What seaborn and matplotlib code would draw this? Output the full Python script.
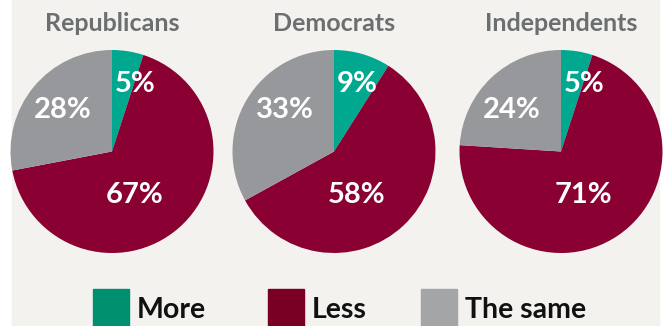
import matplotlib
matplotlib.use("Agg")
import matplotlib.pyplot as plt
import matplotlib.patches as mpatches
import numpy as np
import seaborn as sns

# ---- data ----
groups = ["Republicans", "Democrats", "Independents"]
categories = ["More", "Less", "The same"]
more = [5, 9, 5]
less = [67, 58, 71]
same = [28, 33, 24]

sns.set_theme(style="white")
FONT = ["Lato", "DejaVu Sans"]
plt.rcParams["font.family"] = FONT

pie_colors = sns.color_palette(["#00a88f", "#8a0032", "#97989c"])
legend_colors = sns.color_palette(["#008f6f", "#790024", "#a3a5a6"])
bg = "#f3f2ee"
title_color = "#6b6f70"

W, H = 669, 326
fig = plt.figure(figsize=(W / 100, H / 100), dpi=100)
fig.patch.set_facecolor("white")
fig.patches.append(mpatches.Rectangle((12 / W, 0), (659 - 12) / W, 1,
                                      transform=fig.transFigure, color=bg, zorder=-10))

centers_x = [112, 334, 561]
cy = 151.5
R = 101.5
# label placement (polar, in pie radii) per category
label_polar = [(0.70, 71), (0.48, -62), (0.63, 140)]

for i, g in enumerate(groups):
    vals = [more[i], less[i], same[i]]
    cx = centers_x[i]
    ax = fig.add_axes([(cx - R) / W, (H - cy - R) / H, 2 * R / W, 2 * R / H])
    ax.pie(vals, colors=pie_colors, startangle=90, counterclock=False,
           radius=1, wedgeprops=dict(linewidth=0))
    ax.set_xlim(-1, 1)
    ax.set_ylim(-1, 1)
    ax.set_aspect("equal")
    ax.axis("off")
    for v, (rr, ang) in zip(vals, label_polar):
        a = np.deg2rad(ang)
        ax.text(rr * np.cos(a), rr * np.sin(a), f"{v}%", color="white",
                fontsize=21, fontweight="bold", ha="center", va="center",
                family=FONT)
    fig.text(cx / W, 1 - 31 / H, g, ha="center", va="baseline", fontsize=18,
             fontweight="bold", color=title_color, family=FONT)

# legend (drawn as figure-level patches + text)
legend_box_x = [93, 268, 421]
for x0, c, lab in zip(legend_box_x, legend_colors, categories):
    fig.patches.append(mpatches.Rectangle((x0 / W, 0), 36 / W, (326 - 289) / H,
                                          transform=fig.transFigure, color=c, zorder=5))
    fig.text((x0 + 44) / W, 1 - 318 / H, lab, ha="left", va="baseline",
             fontsize=20.5, fontweight="bold", color="#111111", family=FONT)

fig.savefig("out.png", dpi=100, facecolor=fig.get_facecolor())
